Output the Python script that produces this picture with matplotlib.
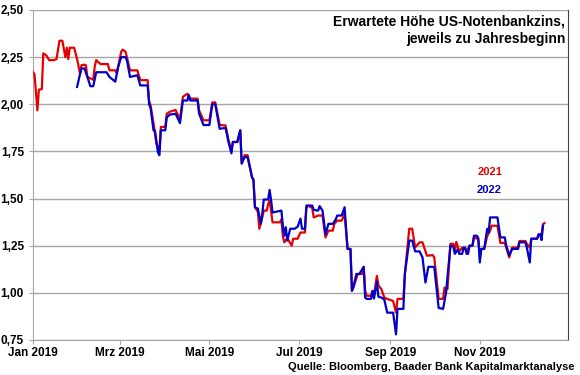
import matplotlib
matplotlib.use("Agg")
import matplotlib.pyplot as plt
import matplotlib.dates as mdates
import pandas as pd

# Erwartete Hoehe US-Notenbankzins (zu Jahresbeginn 2021 / 2022)
red_dates = [
    "2019-01-01", "2019-01-02", "2019-01-04", "2019-01-05", "2019-01-07", "2019-01-08",
    "2019-01-10", "2019-01-12", "2019-01-15", "2019-01-17", "2019-01-19", "2019-01-21",
    "2019-01-23", "2019-01-24", "2019-01-25", "2019-01-26", "2019-01-29", "2019-01-30",
    "2019-01-31", "2019-02-02", "2019-02-03", "2019-02-05", "2019-02-06", "2019-02-07",
    "2019-02-11", "2019-02-12", "2019-02-13", "2019-02-16", "2019-02-21", "2019-02-22",
    "2019-02-26", "2019-02-27", "2019-03-02", "2019-03-03", "2019-03-05", "2019-03-08",
    "2019-03-13", "2019-03-15", "2019-03-20", "2019-03-21", "2019-03-22", "2019-03-24",
    "2019-03-26", "2019-03-28", "2019-03-29", "2019-04-01", "2019-04-02", "2019-04-04",
    "2019-04-08", "2019-04-11", "2019-04-13", "2019-04-16", "2019-04-18", "2019-04-23",
    "2019-04-24", "2019-04-27", "2019-05-01", "2019-05-03", "2019-05-05", "2019-05-08",
    "2019-05-12", "2019-05-14", "2019-05-16", "2019-05-17", "2019-05-20", "2019-05-22",
    "2019-05-23", "2019-05-25", "2019-05-27", "2019-05-30", "2019-05-31", "2019-06-01",
    "2019-06-03", "2019-06-04", "2019-06-06", "2019-06-07", "2019-06-09", "2019-06-10",
    "2019-06-11", "2019-06-13", "2019-06-18", "2019-06-19", "2019-06-20", "2019-06-21",
    "2019-06-23", "2019-06-26", "2019-06-27", "2019-06-30", "2019-07-02", "2019-07-05",
    "2019-07-06", "2019-07-07", "2019-07-10", "2019-07-11", "2019-07-14", "2019-07-17",
    "2019-07-19", "2019-07-21", "2019-07-24", "2019-07-25", "2019-07-27", "2019-07-30",
    "2019-07-31", "2019-08-01", "2019-08-03", "2019-08-05", "2019-08-06", "2019-08-07",
    "2019-08-10", "2019-08-13", "2019-08-14", "2019-08-15", "2019-08-16", "2019-08-19",
    "2019-08-20", "2019-08-21", "2019-08-23", "2019-08-24", "2019-08-26", "2019-08-28",
    "2019-08-30", "2019-09-03", "2019-09-05", "2019-09-06", "2019-09-10", "2019-09-11",
    "2019-09-14", "2019-09-16", "2019-09-18", "2019-09-21", "2019-09-23", "2019-09-26",
    "2019-09-30", "2019-10-01", "2019-10-04", "2019-10-07", "2019-10-08", "2019-10-10",
    "2019-10-12", "2019-10-14", "2019-10-15", "2019-10-16", "2019-10-18", "2019-10-20",
    "2019-10-22", "2019-10-23", "2019-10-25", "2019-10-27", "2019-10-28", "2019-10-30",
    "2019-10-31", "2019-11-01", "2019-11-02", "2019-11-04", "2019-11-06", "2019-11-08",
    "2019-11-09", "2019-11-13", "2019-11-15", "2019-11-18", "2019-11-21", "2019-11-23",
    "2019-11-27", "2019-11-28", "2019-12-02", "2019-12-03", "2019-12-05", "2019-12-06",
    "2019-12-10", "2019-12-11", "2019-12-13", "2019-12-14", "2019-12-15",
]
red_values = [
    2.17, 2.16, 1.968, 2.078, 2.08, 2.27,
    2.26, 2.234, 2.234, 2.24, 2.337, 2.337,
    2.25, 2.30, 2.24, 2.30, 2.30, 2.27,
    2.24, 2.163, 2.207, 2.21, 2.207, 2.145,
    2.13, 2.20, 2.234, 2.213, 2.213, 2.18,
    2.18, 2.165, 2.278, 2.29, 2.278, 2.18,
    2.18, 2.128, 2.128, 2.016, 1.995, 1.899,
    1.79, 1.76, 1.88, 1.88, 1.95, 1.96,
    1.97, 1.92, 2.04, 2.056, 2.03, 2.03,
    1.968, 1.915, 1.915, 2.01, 2.01, 1.89,
    1.888, 1.81, 1.755, 1.80, 1.80, 1.862,
    1.686, 1.73, 1.73, 1.613, 1.60, 1.454,
    1.43, 1.34, 1.40, 1.436, 1.436, 1.47,
    1.49, 1.374, 1.374, 1.39, 1.30, 1.268,
    1.29, 1.25, 1.287, 1.287, 1.32, 1.32,
    1.45, 1.463, 1.45, 1.40, 1.41, 1.41,
    1.294, 1.33, 1.33, 1.366, 1.383, 1.383,
    1.40, 1.42, 1.233, 1.233, 1.011, 1.03,
    1.10, 1.10, 1.138, 1.01, 0.985, 0.984,
    1.01, 0.99, 1.09, 1.04, 1.02, 0.975,
    0.968, 0.957, 0.895, 0.968, 0.968, 1.10,
    1.34, 1.34, 1.241, 1.268, 1.268, 1.197,
    1.20, 1.188, 0.968, 0.968, 1.028, 1.02,
    1.26, 1.26, 1.22, 1.27, 1.22, 1.24,
    1.235, 1.22, 1.25, 1.25, 1.29, 1.29,
    1.28, 1.19, 1.233, 1.233, 1.30, 1.33,
    1.356, 1.356, 1.265, 1.265, 1.188, 1.24,
    1.24, 1.275, 1.275, 1.26, 1.24, 1.287,
    1.287, 1.31, 1.31, 1.365, 1.37,
]

blue_dates = [
    "2019-01-31", "2019-02-02", "2019-02-03", "2019-02-05", "2019-02-07", "2019-02-09",
    "2019-02-11", "2019-02-13", "2019-02-20", "2019-02-22", "2019-02-26", "2019-02-28",
    "2019-03-02", "2019-03-05", "2019-03-06", "2019-03-08", "2019-03-13", "2019-03-15",
    "2019-03-20", "2019-03-21", "2019-03-22", "2019-03-24", "2019-03-25", "2019-03-27",
    "2019-03-28", "2019-03-29", "2019-04-01", "2019-04-02", "2019-04-04", "2019-04-08",
    "2019-04-11", "2019-04-13", "2019-04-16", "2019-04-17", "2019-04-18", "2019-04-23",
    "2019-04-24", "2019-04-27", "2019-05-01", "2019-05-03", "2019-05-05", "2019-05-08",
    "2019-05-12", "2019-05-14", "2019-05-16", "2019-05-17", "2019-05-20", "2019-05-22",
    "2019-05-23", "2019-05-25", "2019-05-27", "2019-05-30", "2019-05-31", "2019-06-01",
    "2019-06-03", "2019-06-05", "2019-06-06", "2019-06-07", "2019-06-10", "2019-06-11",
    "2019-06-12", "2019-06-13", "2019-06-19", "2019-06-20", "2019-06-21", "2019-06-22",
    "2019-06-23", "2019-06-25", "2019-06-28", "2019-06-30", "2019-07-02", "2019-07-03",
    "2019-07-05", "2019-07-06", "2019-07-10", "2019-07-11", "2019-07-14", "2019-07-15",
    "2019-07-17", "2019-07-19", "2019-07-21", "2019-07-24", "2019-07-26", "2019-07-27",
    "2019-07-30", "2019-08-01", "2019-08-03", "2019-08-05", "2019-08-06", "2019-08-07",
    "2019-08-09", "2019-08-11", "2019-08-14", "2019-08-15", "2019-08-16", "2019-08-19",
    "2019-08-20", "2019-08-21", "2019-08-23", "2019-08-24", "2019-08-26", "2019-08-28",
    "2019-08-29", "2019-08-30", "2019-09-03", "2019-09-05", "2019-09-06", "2019-09-10",
    "2019-09-11", "2019-09-14", "2019-09-16", "2019-09-18", "2019-09-21", "2019-09-23",
    "2019-09-25", "2019-09-27", "2019-10-01", "2019-10-04", "2019-10-07", "2019-10-09",
    "2019-10-11", "2019-10-12", "2019-10-14", "2019-10-15", "2019-10-17", "2019-10-18",
    "2019-10-20", "2019-10-21", "2019-10-22", "2019-10-23", "2019-10-24", "2019-10-25",
    "2019-10-27", "2019-10-28", "2019-10-30", "2019-10-31", "2019-11-01", "2019-11-02",
    "2019-11-04", "2019-11-06", "2019-11-07", "2019-11-08", "2019-11-13", "2019-11-15",
    "2019-11-18", "2019-11-19", "2019-11-21", "2019-11-23", "2019-11-27", "2019-11-28",
    "2019-12-02", "2019-12-03", "2019-12-05", "2019-12-06", "2019-12-10", "2019-12-11",
    "2019-12-12", "2019-12-13", "2019-12-14",
]
blue_values = [
    2.092, 2.16, 2.19, 2.19, 2.145, 2.096,
    2.096, 2.17, 2.17, 2.145, 2.12, 2.20,
    2.25, 2.25, 2.23, 2.145, 2.154, 2.10,
    2.10, 2.00, 1.98, 1.862, 1.86, 1.745,
    1.73, 1.862, 1.862, 1.93, 1.945, 1.95,
    1.90, 2.02, 2.02, 2.05, 2.02, 2.02,
    1.95, 1.89, 1.89, 2.00, 2.00, 1.87,
    1.875, 1.80, 1.74, 1.80, 1.80, 1.862,
    1.686, 1.72, 1.72, 1.613, 1.60, 1.454,
    1.447, 1.366, 1.42, 1.495, 1.495, 1.546,
    1.49, 1.426, 1.436, 1.356, 1.303, 1.348,
    1.277, 1.34, 1.34, 1.35, 1.394, 1.34,
    1.34, 1.463, 1.463, 1.44, 1.436, 1.46,
    1.436, 1.31, 1.366, 1.366, 1.39, 1.41,
    1.41, 1.454, 1.233, 1.233, 1.011, 1.03,
    1.10, 1.10, 1.138, 0.975, 0.968, 0.968,
    1.01, 0.97, 1.06, 0.98, 0.975, 0.965,
    0.93, 0.895, 0.895, 0.78, 0.915, 0.915,
    1.10, 1.277, 1.277, 1.22, 1.22, 1.188,
    1.055, 1.138, 1.138, 0.92, 0.915, 1.00,
    1.17, 1.25, 1.245, 1.207, 1.23, 1.207,
    1.207, 1.24, 1.24, 1.207, 1.207, 1.25,
    1.25, 1.303, 1.303, 1.29, 1.161, 1.233,
    1.233, 1.34, 1.32, 1.40, 1.40, 1.294,
    1.294, 1.25, 1.20, 1.233, 1.233, 1.268,
    1.268, 1.24, 1.161, 1.287, 1.287, 1.31,
    1.31, 1.28, 1.356,
]

series_labels = ["2021", "2022"]
month_names = {1: "Jan", 3: "Mrz", 5: "Mai", 7: "Jul", 9: "Sep", 11: "Nov"}
y_ticks = [0.75, 1.00, 1.25, 1.50, 1.75, 2.00, 2.25, 2.50]

title_text = "Erwartete Höhe US-Notenbankzins,\njeweils zu Jahresbeginn"
source_text = "Quelle: Bloomberg, Baader Bank Kapitalmarktanalyse"

RED = "#e60000"
BLUE = "#0000cc"

plt.rcParams["font.family"] = ["Liberation Sans", "DejaVu Sans"]
plt.rcParams["font.weight"] = "bold"

fig = plt.figure(figsize=(5.8, 3.75), dpi=100)
ax = fig.add_axes([33 / 580, 1 - 340 / 375, 535 / 580, 330 / 375])

ax.plot(pd.to_datetime(red_dates), red_values, color=RED, lw=1.6, zorder=3)
ax.plot(pd.to_datetime(blue_dates), blue_values, color=BLUE, lw=1.6, zorder=4)

ax.set_xlim(pd.Timestamp("2019-01-01"), pd.Timestamp("2019-12-31"))
ax.set_ylim(0.75, 2.50)
ax.set_yticks(y_ticks)
ax.yaxis.set_major_formatter(plt.FuncFormatter(lambda v, p: f"{v:.2f}".replace(".", ",")))
ax.xaxis.set_major_locator(mdates.MonthLocator(bymonth=list(month_names)))
ax.xaxis.set_major_formatter(
    plt.FuncFormatter(lambda v, p: f"{month_names[mdates.num2date(v).month]} {mdates.num2date(v).year}"))

ax.grid(axis="y", color="#a6a6a6", lw=1.0)
ax.set_axisbelow(True)
ax.spines["top"].set_visible(False)
ax.spines["left"].set_color("#a6a6a6")
ax.spines["bottom"].set_color("#a6a6a6")
ax.spines["right"].set_color("#404040")
ax.tick_params(axis="both", colors="#a6a6a6", labelcolor="black", labelsize=8.5, length=3)
ax.tick_params(axis="x", pad=2)

ax.text(0.995, 0.985, title_text, transform=ax.transAxes, ha="right", va="top",
        fontsize=10, fontweight="bold", linespacing=1.3)
ax.text(502 / 580, 1 - 172 / 375, series_labels[0], transform=fig.transFigure,
        ha="right", va="center", color=RED, fontsize=8, fontweight="bold")
ax.text(502 / 580, 1 - 190 / 375, series_labels[1], transform=fig.transFigure,
        ha="right", va="center", color=BLUE, fontsize=8, fontweight="bold")
fig.text(574 / 580, 1 - 367 / 375, source_text, ha="right", va="center",
         fontsize=8, fontweight="bold")

fig.savefig("out.png", dpi=100)
